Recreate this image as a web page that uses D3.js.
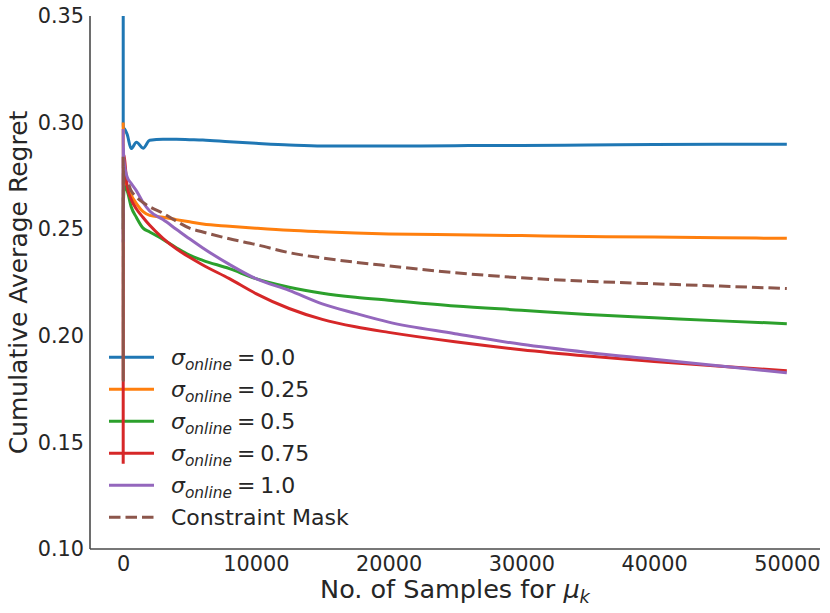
<!DOCTYPE html>
<html>
<head>
<meta charset="utf-8">
<script src="https://cdn.jsdelivr.net/npm/d3@7"></script>
<style>
  html, body { margin: 0; padding: 0; background: #fff; }
  svg { display: block; }
  text { font-family: "DejaVu Sans", sans-serif; fill: #262626; }
</style>
</head>
<body>
<svg id="chart" width="830" height="613"></svg>
<script>
// ---------------- data ----------------
const samples = [1, 3, 10, 30, 100, 300, 600, 1000, 1500, 2000, 3000, 4000, 5000, 6000,
  8000, 10000, 12500, 15000, 17500, 20000, 25000, 30000, 35000, 40000, 45000, 50000];

const sigma00 = [0.50, 0.300, 0.2985, 0.2975, 0.297, 0.2945, 0.2878, 0.2908, 0.2880, 0.2917, 0.2922, 0.2922, 0.2920, 0.2918,
  0.2910, 0.2903, 0.2895, 0.2890, 0.2890, 0.2890, 0.2892, 0.2893, 0.2895, 0.2897, 0.2898, 0.2898];
const sigma025 = [0.300, 0.290, 0.285, 0.280, 0.275, 0.270, 0.266, 0.262, 0.2582, 0.2565, 0.2556, 0.2545, 0.2535, 0.2524,
  0.2514, 0.2505, 0.2495, 0.2488, 0.2482, 0.2478, 0.2474, 0.2470, 0.2466, 0.2463, 0.2460, 0.2457];
const sigma05 = [0.250, 0.265, 0.260, 0.265, 0.270, 0.2680, 0.2605, 0.2555, 0.2505, 0.2487, 0.2452, 0.2413, 0.2378, 0.2354,
  0.2315, 0.2268, 0.2228, 0.2200, 0.2181, 0.2167, 0.2140, 0.2120, 0.2100, 0.2085, 0.2070, 0.2057];
const sigma075 = [0.140, 0.250, 0.280, 0.285, 0.283, 0.2700, 0.2640, 0.2595, 0.2555, 0.2518, 0.2457, 0.2408, 0.2368, 0.2332,
  0.2268, 0.2198, 0.2128, 0.2077, 0.2042, 0.2016, 0.1972, 0.1935, 0.1905, 0.1879, 0.1857, 0.1836];
const sigma10 = [0.297, 0.244, 0.290, 0.285, 0.280, 0.2745, 0.2715, 0.2680, 0.2625, 0.2585, 0.2545, 0.2500, 0.2455, 0.2412,
  0.2335, 0.2268, 0.2213, 0.2150, 0.2105, 0.2064, 0.2010, 0.1960, 0.1922, 0.1890, 0.1858, 0.1827];
const constraintMask = [0.284, 0.179, 0.280, 0.275, 0.272, 0.2720, 0.2680, 0.2650, 0.2625, 0.2605, 0.2575, 0.2538, 0.2505, 0.2487,
  0.2455, 0.2428, 0.2390, 0.2365, 0.2345, 0.2328, 0.2296, 0.2272, 0.2256, 0.2244, 0.2233, 0.2222];

const seriesNames = ["0.0", "0.25", "0.5", "0.75", "1.0", "Constraint Mask"];
const seriesValues = [sigma00, sigma025, sigma05, sigma075, sigma10, constraintMask];
const seriesColors = ["#1f77b4", "#ff7f0e", "#2ca02c", "#d62728", "#9467bd", "#8c564b"];
const xTicks = [0, 10000, 20000, 30000, 40000, 50000];
const yTicks = [0.10, 0.15, 0.20, 0.25, 0.30, 0.35];

// ---------------- layout ----------------
(function () {
const svg = d3.select("#chart");
const pL = 90, pR = 820, pT = 16, pB = 549;

const x = d3.scaleLinear().domain([-2500, 52500]).range([pL, pR]);
const y = d3.scaleLinear().domain([0.10, 0.35]).range([pB, pT]);

svg.append("defs").append("clipPath").attr("id", "plotclip")
  .append("rect").attr("x", pL).attr("y", pT).attr("width", pR - pL).attr("height", pB - pT);

// axes (spines only, no tick marks)
const xAxis = svg.append("g").attr("transform", `translate(0,${pB})`)
  .call(d3.axisBottom(x).tickValues(xTicks).tickFormat(d3.format("d")).tickSize(0).tickPadding(7));
const yAxis = svg.append("g").attr("transform", `translate(${pL},0)`)
  .call(d3.axisLeft(y).tickValues(yTicks).tickFormat(d3.format(".2f")).tickSize(0).tickPadding(6));
[xAxis, yAxis].forEach(g => {
  g.select(".domain").attr("stroke", "#4a4a4a").attr("stroke-width", 1.6);
  g.selectAll("text").attr("font-size", 20.8).attr("fill", "#262626")
    .attr("font-family", "DejaVu Sans, sans-serif");
});
xAxis.select(".domain").attr("d", `M${pL},0H${pR}`);
yAxis.select(".domain").attr("d", `M0,${pT}V${pB}`);

// axis labels
svg.append("text")
  .attr("transform", `translate(27,${(pT + pB) / 2}) rotate(-90)`)
  .attr("text-anchor", "middle").attr("font-size", 25)
  .text("Cumulative Average Regret");

const xl = svg.append("text")
  .attr("x", (pL + pR) / 2).attr("y", 598)
  .attr("text-anchor", "middle").attr("font-size", 25.5);
xl.append("tspan").text("No. of Samples for ");
xl.append("tspan").attr("font-style", "italic").text("μ");
xl.append("tspan").attr("font-style", "italic").attr("font-size", 17.8).attr("dy", 5).text("k");

// legend
const legend = svg.append("g");
seriesNames.forEach((name, i) => {
  const ly = 357.3 + i * 32;
  legend.append("line")
    .attr("x1", 109).attr("x2", 154).attr("y1", ly).attr("y2", ly)
    .attr("stroke", seriesColors[i]).attr("stroke-width", 3)
    .attr("stroke-dasharray", i === 5 ? "11.5,5" : null);
  const t = legend.append("text").attr("x", 171).attr("y", ly + 8).attr("font-size", 22);
  if (i === 5) {
    t.text(name);
  } else {
    t.append("tspan").attr("font-style", "italic").text("σ");
    t.append("tspan").attr("font-style", "italic").attr("font-size", 15.4).attr("dy", 5).text("online");
    t.append("tspan").attr("dy", -5).attr("dx", 5).text("=");
    t.append("tspan").attr("dx", 5).text(name);
  }
});

// lines
const line = d3.line()
  .x((d, i) => x(samples[i]))
  .y(d => y(d))
  .curve(d3.curveMonotoneX);

const plot = svg.append("g").attr("clip-path", "url(#plotclip)");
seriesValues.forEach((vals, i) => {
  plot.append("path")
    .datum(vals)
    .attr("d", line)
    .attr("fill", "none")
    .attr("stroke", seriesColors[i])
    .attr("stroke-width", 3)
    .attr("stroke-linejoin", "round")
    .attr("stroke-dasharray", i === 5 ? "11.5,5" : null);
});
})();
</script>
</body>
</html>
